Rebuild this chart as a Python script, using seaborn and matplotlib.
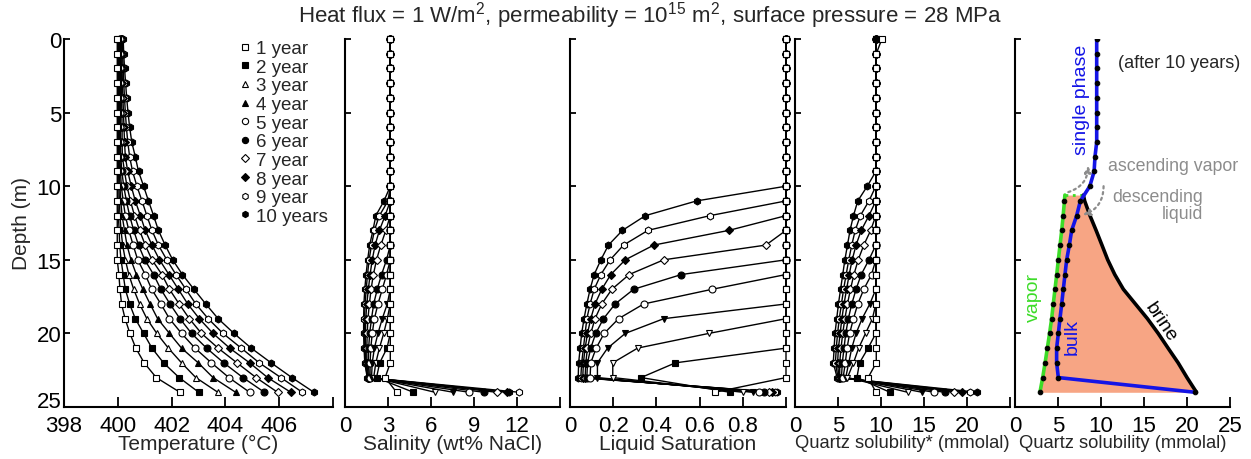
import matplotlib
matplotlib.use('Agg')
import matplotlib.pyplot as plt
import seaborn as sns
from matplotlib.lines import Line2D

sns.set_style('ticks')
plt.rcParams['font.family'] = ['Liberation Sans', 'DejaVu Sans']
plt.rcParams['mathtext.default'] = 'regular'

# ---- data ----
depth = list(range(25))
years = ['1 year', '2 year', '3 year', '4 year', '5 year',
         '6 year', '7 year', '8 year', '9 year', '10 years']

# temperature (deg C)
temp_1 = [399.98] * 16 + [400.04, 400.08, 400.14, 400.27, 400.45, 400.67, 400.98, 401.43, 402.31]
temp_2 = [400.0] * 11 + [400.01, 400.02, 400.05, 400.07, 400.12, 400.2, 400.28, 400.44, 400.65,
                         400.96, 401.27, 401.7, 402.28, 403.01]
temp_3 = [400.03] * 10 + [400.04, 400.06, 400.08, 400.12, 400.18, 400.28, 400.41, 400.59, 400.81,
                          401.08, 401.45, 401.88, 402.37, 402.9, 403.72]
temp_4 = [400.05] * 9 + [400.06, 400.08, 400.11, 400.16, 400.25, 400.34, 400.49, 400.69, 400.93,
                         401.2, 401.48, 401.92, 402.37, 402.99, 403.54, 404.38]
temp_5 = [400.07] * 8 + [400.08, 400.1, 400.13, 400.2, 400.28, 400.41, 400.57, 400.74, 401.02,
                         401.26, 401.6, 401.92, 402.37, 402.87, 403.48, 404.13, 404.9]
temp_6 = [400.1] * 8 + [400.11, 400.15, 400.22, 400.32, 400.44, 400.59, 400.77, 401.0, 401.33,
                        401.6, 401.94, 402.31, 402.74, 403.3, 403.94, 404.65, 405.45]
temp_7 = [400.12, 400.12, 400.13, 400.13, 400.14, 400.15, 400.16, 400.16, 400.17, 400.25, 400.34,
          400.47, 400.62, 400.81, 401.02, 401.27, 401.64, 401.92, 402.28, 402.66, 403.11, 403.73,
          404.43, 405.14, 405.94]
temp_8 = [400.14, 400.15, 400.16, 400.17, 400.19, 400.21, 400.23, 400.25, 400.28, 400.37, 400.5,
          400.65, 400.84, 401.02, 401.27, 401.55, 401.9, 402.25, 402.6, 403.03, 403.54, 404.16,
          404.9, 405.57, 406.43]
temp_9 = [400.17, 400.18, 400.2, 400.22, 400.25, 400.28, 400.32, 400.37, 400.44, 400.55, 400.71,
          400.9, 401.08, 401.27, 401.51, 401.82, 402.16, 402.53, 402.9, 403.36, 403.91, 404.59,
          405.26, 406.06, 406.86]
temp_10 = [400.2, 400.22, 400.25, 400.29, 400.33, 400.38, 400.44, 400.52, 400.65, 400.77, 400.96,
           401.14, 401.33, 401.51, 401.76, 402.04, 402.4, 402.83, 403.27, 403.73, 404.32, 404.96,
           405.7, 406.47, 407.29]

# salinity (wt% NaCl)
sal_1 = [3.16] * 23 + [2.8, 3.6]
sal_2 = [3.16] * 21 + [2.93, 2.42, 2.2, 4.77]
sal_3 = [3.16] * 19 + [2.95, 2.7, 2.4, 2.15, 2.0, 6.28]
sal_4 = [3.16] * 18 + [2.95, 2.6, 2.3, 2.05, 1.9, 1.85, 7.56]
sal_5 = [3.16] * 16 + [2.9, 2.6, 2.3, 2.05, 1.9, 1.8, 1.75, 1.75, 8.68]
sal_6 = [3.16] * 15 + [2.9, 2.55, 2.25, 2.0, 1.85, 1.72, 1.65, 1.62, 1.7, 9.7]
sal_7 = [3.16] * 13 + [2.85, 2.5, 2.2, 1.98, 1.82, 1.7, 1.6, 1.55, 1.52, 1.52, 1.65, 10.58]
sal_8 = [3.16] * 12 + [2.8, 2.4, 2.1, 1.9, 1.75, 1.63, 1.52, 1.45, 1.42, 1.42, 1.45, 1.6, 11.3]
sal_9 = [3.16] * 11 + [3.0, 2.4, 2.05, 1.85, 1.68, 1.57, 1.48, 1.4, 1.36, 1.34, 1.36, 1.4, 1.58, 12.16]
sal_10 = [3.16] * 11 + [2.72, 2.15, 1.95, 1.72, 1.58, 1.47, 1.38, 1.32, 1.3, 1.3, 1.33, 1.38, 1.55, 11.45]

# liquid saturation
sat_1 = [1.0] * 24 + [0.67]
sat_2 = [1.0] * 22 + [0.488, 0.329, 0.74]
sat_3 = [1.0] * 20 + [0.643, 0.313, 0.198, 0.198, 0.8]
sat_4 = [1.0] * 19 + [0.434, 0.256, 0.174, 0.127, 0.127, 0.845]
sat_5 = [1.0] * 17 + [0.659, 0.341, 0.225, 0.158, 0.121, 0.096, 0.093, 0.876]
sat_6 = [1.0] * 16 + [0.516, 0.295, 0.209, 0.155, 0.119, 0.096, 0.081, 0.078, 0.9]
sat_7 = [1.0] * 14 + [0.907, 0.434, 0.274, 0.194, 0.147, 0.116, 0.096, 0.081, 0.073, 0.07, 0.92]
sat_8 = [1.0] * 13 + [0.736, 0.388, 0.256, 0.189, 0.147, 0.116, 0.096, 0.081, 0.07, 0.062, 0.059, 0.935]
sat_9 = [1.0] * 12 + [0.648, 0.361, 0.248, 0.186, 0.143, 0.112, 0.093, 0.078, 0.07, 0.062, 0.054,
                      0.05, 0.95]
sat_10 = [1.0] * 11 + [0.586, 0.349, 0.243, 0.178, 0.143, 0.112, 0.093, 0.078, 0.065, 0.054, 0.047,
                       0.04, 0.038, 0.96]

# quartz solubility* (mmolal)
qtz_1 = [10.1] + [9.45] * 22 + [8.5, 9.42]
qtz_2 = [9.4] * 21 + [8.5, 7.5, 7.2, 11.05]
qtz_3 = [9.4] * 19 + [9.0, 8.2, 7.4, 6.8, 6.1, 13.1]
qtz_4 = [9.4] * 18 + [8.7, 7.8, 7.1, 6.6, 6.25, 5.9, 14.8]
qtz_5 = [9.4] * 16 + [8.9, 8.0, 7.3, 6.8, 6.35, 6.05, 5.85, 5.6, 16.2]
qtz_6 = [9.4] * 15 + [8.6, 7.7, 7.1, 6.6, 6.2, 5.9, 5.7, 5.5, 5.4, 17.4]
qtz_7 = [9.4] * 13 + [8.8, 8.0, 7.35, 6.85, 6.45, 6.1, 5.8, 5.55, 5.35, 5.2, 5.2, 18.5]
qtz_8 = [9.4] * 12 + [8.6, 7.7, 7.1, 6.65, 6.3, 6.0, 5.7, 5.45, 5.25, 5.05, 4.95, 5.1, 19.4]
qtz_9 = [9.4] * 11 + [8.6, 7.6, 7.0, 6.6, 6.25, 5.95, 5.65, 5.4, 5.15, 4.95, 4.8, 4.7, 5.0, 20.35]
qtz_10 = [9.4] * 10 + [8.4, 7.3, 6.8, 6.4, 6.1, 5.8, 5.55, 5.3, 5.05, 4.85, 4.65, 4.55, 4.45, 4.9, 21.2]

# after 10 years: bulk, vapor and brine quartz solubility
bulk = [9.5] * 8 + [9.3, 9.2, 8.7, 7.6, 7.17, 6.59, 6.32, 6.01, 5.81, 5.62, 5.43, 5.23, 5.04,
                    4.84, 4.84, 5.04, 20.93]
phase_depth = [10.6, 11, 12, 13, 14, 15, 16, 17, 18, 19, 20, 21, 22, 23, 24]
vapor = [5.8, 5.75, 5.6, 5.43, 5.24, 5.04, 4.85, 4.65, 4.45, 4.26, 4.02, 3.76, 3.5, 3.22, 2.9]
brine = [7.95, 8.1, 8.72, 9.43, 10.11, 10.78, 11.6, 12.6, 14.0, 15.4, 16.65, 17.8, 18.97, 20.0, 21.1]

temperature = [temp_1, temp_2, temp_3, temp_4, temp_5, temp_6, temp_7, temp_8, temp_9, temp_10]
salinity = [sal_1, sal_2, sal_3, sal_4, sal_5, sal_6, sal_7, sal_8, sal_9, sal_10]
saturation = [sat_1, sat_2, sat_3, sat_4, sat_5, sat_6, sat_7, sat_8, sat_9, sat_10]
quartz = [qtz_1, qtz_2, qtz_3, qtz_4, qtz_5, qtz_6, qtz_7, qtz_8, qtz_9, qtz_10]

# marker per year (shape, face colour)
styles = [('s', 'white'), ('s', 'k'), ('^', 'white'), ('^', 'k'), ('o', 'white'),
          ('o', 'k'), ('D', 'white'), ('D', 'k'), ('h', 'white'), ('h', 'k')]

# ---- figure ----
W, H = 1251, 460
fig = plt.figure(figsize=(W / 100, H / 100), dpi=100)
boxes = [(64, 333), (345, 560), (570, 786), (795, 1010), (1015, 1230)]
axes = [fig.add_axes([l / W, 52 / H, (r - l) / W, 368 / H]) for l, r in boxes]


def style_axis(ax, xlim, xticks, xlabels, xlabel, label_fs=15):
    ax.set_xlim(*xlim)
    ax.set_ylim(25, 0)
    ax.set_xticks(xticks)
    ax.set_xticklabels(xlabels, fontsize=16)
    ax.set_yticks(range(0, 26, 5))
    ax.tick_params(direction='in', width=1.3, colors='k')
    ax.tick_params(axis='x', length=7, pad=5.5)
    ax.tick_params(axis='y', length=4)
    for s in ['top', 'right']:
        ax.spines[s].set_visible(False)
    for s in ['left', 'bottom']:
        ax.spines[s].set_linewidth(1.5)
        ax.spines[s].set_color('k')
    ax.set_xlabel(xlabel, fontsize=label_fs, labelpad=-1.5)
    ax.set_ylabel('')
    ax.set_yticklabels([])


def draw_profiles(ax, series, tri):
    # draw oldest first so the 1-year squares end up on top
    for i in range(9, -1, -1):
        m, fc = styles[i]
        if m == '^':
            m = tri
        ms = 4.2 if m == 'D' else 5
        sns.lineplot(x=series[i], y=depth, ax=ax, orient='y', sort=False, estimator=None,
                     color='k', lw=1.0, marker=m, markersize=ms, markerfacecolor=fc,
                     markeredgecolor='k', markeredgewidth=0.8, clip_on=False)


# panel 1: temperature
ax = axes[0]
draw_profiles(ax, temperature, '^')
style_axis(ax, (398, 408), range(398, 409, 2), ['398', '400', '402', '404', '406', ''],
           'Temperature (°C)')
ax.set_yticklabels([str(v) for v in range(0, 26, 5)], fontsize=16)
ax.get_yticklabels()[-1].set_verticalalignment('baseline')
ax.tick_params(axis='y', pad=2)
ax.set_ylabel('Depth (m)', fontsize=15, labelpad=4)
handles = [Line2D([], [], ls='none', marker=m, markersize=4.5 if m != 'D' else 3.8,
                  markerfacecolor=fc, markeredgecolor='k', markeredgewidth=0.8)
           for m, fc in styles]
ax.legend(handles, years, loc='upper left', bbox_to_anchor=(0.652, 0.997), frameon=False,
          fontsize=13.5, handlelength=0.6, handletextpad=0.3, labelspacing=0.08,
          borderpad=0, borderaxespad=0)

# panel 2: salinity
ax = axes[1]
draw_profiles(ax, salinity, 'v')
style_axis(ax, (0, 15), range(0, 16, 3), ['0', '3', '6', '9', '12', ''], 'Salinity (wt% NaCl)')

# panel 3: liquid saturation
ax = axes[2]
draw_profiles(ax, saturation, 'v')
style_axis(ax, (0, 1.0), [0, 0.2, 0.4, 0.6, 0.8, 1.0], ['0', '0.2', '0.4', '0.6', '0.8', ''],
           'Liquid Saturation')

# panel 4: quartz solubility*
ax = axes[3]
draw_profiles(ax, quartz, 'v')
style_axis(ax, (0, 25), range(0, 26, 5), ['0', '5', '10', '15', '20', ''],
           'Quartz solubility* (mmolal)', label_fs=13.2)

# panel 5: after 10 years
ax = axes[4]
blue, green, grey = '#1414e6', '#3cdc28', '#8c8c8c'
ax.fill_betweenx(phase_depth, vapor, brine, color='#f7a584', lw=0, zorder=1)
sns.lineplot(x=brine, y=phase_depth, ax=ax, orient='y', sort=False, estimator=None,
             color='k', lw=2.6, zorder=3)
sns.lineplot(x=vapor, y=phase_depth, ax=ax, orient='y', sort=False, estimator=None,
             color=green, lw=2.6, marker='o', markersize=3.3, markerfacecolor='k',
             markeredgecolor='k', markevery=list(range(1, len(vapor))), zorder=3)
ax.plot([vapor[0], brine[0]], [phase_depth[0], phase_depth[0]], color=green, ls=':', lw=2, zorder=2)
sns.lineplot(x=bulk, y=depth, ax=ax, orient='y', sort=False, estimator=None,
             color=blue, lw=2.6, marker='o', markersize=3.3, markerfacecolor='k',
             markeredgecolor='k', zorder=4)
ax.annotate('', xy=(8.5, 8.6), xytext=(6.2, 10.4),
            arrowprops=dict(arrowstyle='-|>', color=grey, ls=':', lw=1.6, mutation_scale=10,
                            connectionstyle='arc3,rad=0.35', shrinkA=0, shrinkB=0))
ax.annotate('', xy=(7.9, 11.95), xytext=(10.3, 10.0),
            arrowprops=dict(arrowstyle='-|>', color=grey, ls=':', lw=1.6, mutation_scale=10,
                            connectionstyle='arc3,rad=-0.35', shrinkA=0, shrinkB=0))
style_axis(ax, (0, 25), range(0, 26, 5), ['0', '5', '10', '15', '20', '25'],
           'Quartz solubility (mmolal)', label_fs=13.2)
ax.text(12.0, 1.6, '(after 10 years)', fontsize=13, va='center', ha='left')
ax.text(10.8, 8.6, 'ascending vapor', fontsize=12.8, color=grey, va='center', ha='left')
ax.text(21.9, 11.3, 'descending\nliquid', fontsize=12.8, color=grey, va='center', ha='right',
        linespacing=1.0)
ax.text(7.75, 4.1, 'single phase', fontsize=14, color=blue, rotation=90, va='center', ha='center')
ax.text(2.1, 17.5, 'vapor', fontsize=14, color=green, rotation=90, va='center', ha='center')
ax.text(6.6, 20.2, 'bulk', fontsize=14, color=blue, rotation=90, va='center', ha='center')
ax.text(16.9, 19.2, 'brine', fontsize=14, color='k', rotation=-56, va='center', ha='center')

fig.text(650 / W, 1 - 16 / H,
         'Heat flux = 1 W/m$^2$, permeability = 10$^{15}$ m$^2$, surface pressure = 28 MPa',
         fontsize=16, ha='center', va='center')

fig.savefig('out.png', dpi=100)
